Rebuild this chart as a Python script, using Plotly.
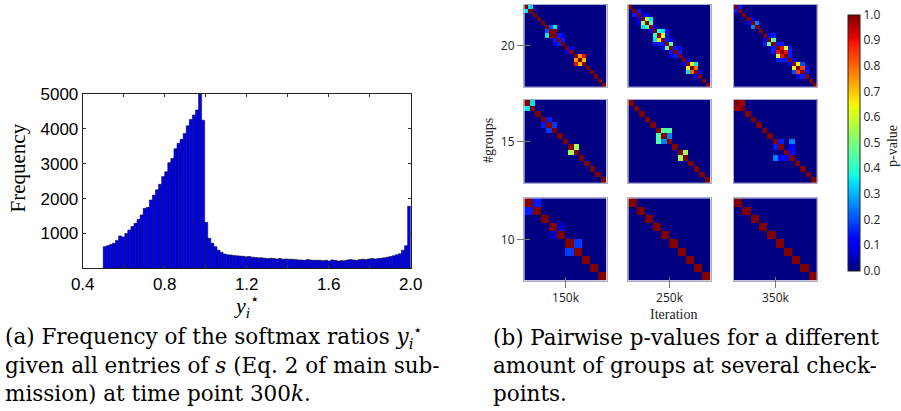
import numpy as np
import plotly.graph_objects as go

W, H = 901, 411

# ---------------- (a) histogram data ----------------
HIST_BIN_START = 0.5
HIST_BIN_WIDTH = 0.015
HIST_COUNTS = [
    620, 650, 680, 720, 800, 930, 900, 1000, 1100, 1200,
    1290, 1400, 1530, 1720, 1750, 1960, 2100, 2250, 2410, 2630,
    2770, 3030, 3150, 3430, 3590, 3700, 3870, 4090, 4270, 4400,
    4540, 5400, 4250, 1320, 860, 720, 620, 520, 460, 410,
    390, 380, 370, 360, 350, 345, 330, 340, 320, 310,
    300, 300, 290, 280, 290, 280, 270, 280, 260, 270,
    260, 260, 250, 240, 240, 230, 250, 240, 230, 230,
    230, 220, 230, 210, 240, 230, 210, 220, 220, 240,
    250, 240, 230, 250, 260, 250, 270, 280, 270, 280,
    290, 300, 320, 340, 360, 390, 420, 520, 650, 1780,
]
HIST_X_TICKS = [0.4, 0.8, 1.2, 1.6, 2.0]
HIST_X_MINOR = [0.6, 1.0, 1.4, 1.8]
HIST_Y_TICKS = [1000, 2000, 3000, 4000, 5000]

# ---------------- (b) pairwise p-values ----------------
GROUP_SIZES = [20, 15, 10]
GROUP_LABELS = ["20", "15", "10"]
ITERATIONS = ["150k", "250k", "350k"]

# off-diagonal entries (i, j, p) ; matrices are symmetric with p=1 on the diagonal
PV_20_150K = [(0, 1, 0.35), (5, 6, 0.2), (5, 7, 0.35), (6, 7, 1.0), (7, 8, 0.15),
              (8, 9, 0.15), (7, 9, 0.12), (10, 11, 0.1), (12, 13, 0.75),
              (12, 14, 0.9), (13, 14, 0.7)]
PV_20_250K = [(1, 2, 0.15), (2, 3, 0.1), (2, 4, 0.1), (3, 4, 0.55), (3, 5, 0.35),
              (4, 5, 0.45), (5, 6, 0.1), (6, 7, 0.4), (6, 8, 0.35), (7, 8, 0.65),
              (6, 9, 0.12), (7, 9, 0.15), (8, 9, 0.15), (8, 10, 0.12), (9, 10, 0.45),
              (10, 11, 0.15), (11, 12, 0.15), (10, 12, 0.1), (13, 14, 0.1),
              (14, 15, 0.65), (14, 16, 0.35), (15, 16, 0.8), (16, 17, 0.1)]
PV_20_350K = [(0, 1, 0.15), (3, 4, 0.1), (4, 5, 0.25), (7, 8, 0.12), (8, 9, 0.45),
              (7, 9, 0.15), (9, 10, 0.15), (9, 11, 0.15), (10, 11, 0.9),
              (10, 12, 0.6), (11, 12, 0.9), (10, 13, 0.15), (11, 13, 0.15),
              (12, 13, 0.15), (13, 14, 0.12), (14, 15, 0.65), (14, 16, 0.2),
              (15, 16, 0.85), (15, 17, 0.12), (16, 17, 0.15)]
PV_15_150K = [(0, 1, 0.35), (3, 4, 0.15), (4, 5, 0.18), (8, 9, 0.55)]
PV_15_250K = [(5, 6, 0.45), (5, 7, 0.45), (6, 7, 0.25), (9, 10, 0.55)]
PV_15_350K = [(0, 1, 0.97), (7, 8, 0.15), (7, 10, 0.25), (8, 10, 0.13), (9, 10, 0.13)]
PV_10_150K = [(0, 1, 0.15), (3, 4, 0.06), (5, 6, 0.18)]
PV_10_250K = []
PV_10_350K = []

PV_GRID = [
    [PV_20_150K, PV_20_250K, PV_20_350K],
    [PV_15_150K, PV_15_250K, PV_15_350K],
    [PV_10_150K, PV_10_250K, PV_10_350K],
]

# matplotlib-style jet
JET = [
    [0.0, "rgb(0,0,128)"], [0.11, "rgb(0,0,255)"], [0.125, "rgb(0,0,255)"],
    [0.34, "rgb(0,219,255)"], [0.35, "rgb(0,229,247)"], [0.375, "rgb(20,255,226)"],
    [0.64, "rgb(238,255,8)"], [0.65, "rgb(247,246,0)"], [0.66, "rgb(255,236,0)"],
    [0.89, "rgb(255,19,0)"], [0.91, "rgb(232,0,0)"], [1.0, "rgb(128,0,0)"],
]


def fx(px):
    return px / W


def fy(py):
    return 1 - py / H


def sym_matrix(n, entries):
    m = np.zeros((n, n))
    np.fill_diagonal(m, 1.0)
    for i, j, p in entries:
        m[i, j] = p
        m[j, i] = p
    return m


fig = go.Figure()

# ---- histogram ----
centers = [HIST_BIN_START + HIST_BIN_WIDTH * (k + 0.5) for k in range(len(HIST_COUNTS))]
fig.add_trace(go.Bar(
    x=centers, y=HIST_COUNTS, width=HIST_BIN_WIDTH,
    marker=dict(color="rgb(0,0,255)", line=dict(color="black", width=0.5)),
    xaxis="x", yaxis="y", showlegend=False,
))

tickfont_a = dict(family="Liberation Sans, Arial", size=17, color="black")
layout = dict(
    width=W, height=H, margin=dict(l=0, r=0, t=0, b=0, pad=0, autoexpand=False),
    paper_bgcolor="white", plot_bgcolor="rgba(0,0,0,0)",
    showlegend=False,
    xaxis=dict(domain=[fx(82.7), fx(410.7)], range=[0.4, 2.0], anchor="y",
               tickmode="array", tickvals=HIST_X_TICKS,
               ticktext=["%.1f" % v for v in HIST_X_TICKS],
               ticks="inside", ticklen=3, tickcolor="#333",
               minor=dict(tickvals=HIST_X_MINOR, ticks="inside", ticklen=3, tickcolor="#333"),
               showline=True, linecolor="#222", linewidth=1, mirror="allticks",
               showgrid=False, zeroline=False, tickfont=tickfont_a, automargin=False),
    yaxis=dict(domain=[fy(268.3), fy(94)], range=[0, 5000], anchor="x",
               tickmode="array", tickvals=HIST_Y_TICKS,
               ticks="inside", ticklen=3, tickcolor="#333",
               showline=True, linecolor="#222", linewidth=1, mirror="allticks",
               showgrid=False, zeroline=False, tickfont=tickfont_a, automargin=False),
)

# ---- heatmap grid ----
COL_PX = [(524.3, 606.7), (628.3, 710.7), (734.0, 816.7)]
ROW_PX = [(4.7, 87.0), (100.0, 182.7), (198.3, 280.7)]

for r, n in enumerate(GROUP_SIZES):
    for c in range(len(ITERATIONS)):
        k = 2 + r * 3 + c
        z = sym_matrix(n, PV_GRID[r][c])
        fig.add_trace(go.Heatmap(
            z=z, x=list(range(n)), y=list(range(n)),
            coloraxis="coloraxis", xaxis="x%d" % k, yaxis="y%d" % k,
            hoverinfo="skip",
        ))
        x0, x1 = COL_PX[c]
        y0, y1 = ROW_PX[r]
        layout["xaxis%d" % k] = dict(
            domain=[fx(x0), fx(x1)], range=[-0.5, n - 0.5], anchor="y%d" % k,
            showticklabels=False, ticks="", showgrid=False, zeroline=False,
            showline=True, linecolor="rgb(170,170,205)", linewidth=1, mirror=True,
            automargin=False)
        layout["yaxis%d" % k] = dict(
            domain=[fy(y1), fy(y0)], range=[n - 0.5, -0.5], anchor="x%d" % k,
            showticklabels=False, ticks="", showgrid=False, zeroline=False,
            showline=True, linecolor="rgb(170,170,205)", linewidth=1, mirror=True,
            automargin=False)

# overlay axes carrying the grid's tick labels
fig.add_trace(go.Scatter(x=[], y=[], xaxis="x11", yaxis="y11", showlegend=False))
col_centers = [(a + b) / 2 for a, b in COL_PX]
row_centers = [(a + b) / 2 for a, b in ROW_PX]
tickfont_b = dict(family="Open Sans, Noto Sans", size=12, color="#222")
layout["xaxis11"] = dict(
    domain=[fx(COL_PX[0][0]), fx(COL_PX[2][1])], range=[COL_PX[0][0], COL_PX[2][1]],
    anchor="free", position=fy(276),
    tickmode="array", tickvals=col_centers, ticktext=ITERATIONS,
    ticks="outside", ticklen=11, tickcolor="#777", tickwidth=1,
    showline=False, showgrid=False, zeroline=False, tickfont=tickfont_b, automargin=False)
layout["yaxis11"] = dict(
    domain=[fy(ROW_PX[2][1]), fy(ROW_PX[0][0])], range=[ROW_PX[2][1], ROW_PX[0][0]],
    anchor="free", position=fx(530),
    tickmode="array", tickvals=row_centers, ticktext=GROUP_LABELS,
    ticks="outside", ticklen=13, tickcolor="#777", tickwidth=1,
    showline=False, showgrid=False, zeroline=False, tickfont=tickfont_b, automargin=False)

layout["coloraxis"] = dict(
    cmin=0, cmax=1, colorscale=JET,
    colorbar=dict(
        thickness=11.6, thicknessmode="pixels",
        len=(270.7 - 14.3) / H, lenmode="fraction",
        x=fx(847.7), xanchor="left", xpad=0,
        y=fy((14.3 + 270.7) / 2), yanchor="middle", ypad=0,
        outlinewidth=1, outlinecolor="#222",
        tickmode="array", tickvals=[i / 10 for i in range(11)],
        ticktext=["%.1f" % (i / 10) for i in range(11)],
        ticks="", tickfont=tickfont_b,
    ),
)

serif_a = "Liberation Serif, Times New Roman, serif"
serif_cap = "DejaVu Serif, serif"


def ann(text, x, y, size, family, angle=0, xanchor="center", color="black"):
    return dict(text=text, x=fx(x), y=fy(y), xref="paper", yref="paper",
                xanchor=xanchor, yanchor="middle", showarrow=False,
                textangle=angle, font=dict(family=family, size=size, color=color))


CAP = 21.5
annotations = [
    ann("Frequency", 17.5, 168, 21, serif_a, angle=-90),
    ann("<i>y</i><sub><i>i</i></sub><sup>⋆</sup>", 246, 305, 22, serif_a),
    ann("#groups", 488, 141, 14, serif_a, angle=-90, color="#222"),
    ann("Iteration", 673.7, 314, 14, serif_a, color="#222"),
    ann("p-value", 892, 146, 14, serif_a, angle=-90, color="#222"),
    # caption (a)
    ann("(a) Frequency of the softmax ratios <i>y</i><sub><i>i</i></sub><sup>⋆</sup>",
        3, 337, CAP, serif_cap, xanchor="left"),
    ann("given all entries of <i>s</i> (Eq. 2 of main sub-", 3, 365, CAP, serif_cap, xanchor="left"),
    ann("mission) at time point 300<i>k</i>.", 3, 393, CAP, serif_cap, xanchor="left"),
    # caption (b)
    ann("(b) Pairwise p-values for a different", 491, 337, CAP, serif_cap, xanchor="left"),
    ann("amount of groups at several check-", 491, 365, CAP, serif_cap, xanchor="left"),
    ann("points.", 491, 393, CAP, serif_cap, xanchor="left"),
]
layout["annotations"] = annotations

fig.update_layout(**layout)
# the default page body adds an 8 px margin; remove it so the 901x411 figure fills the window
fig.write_html("out.html", config={"displayModeBar": False},
               post_script="document.body.style.margin='0px';")
